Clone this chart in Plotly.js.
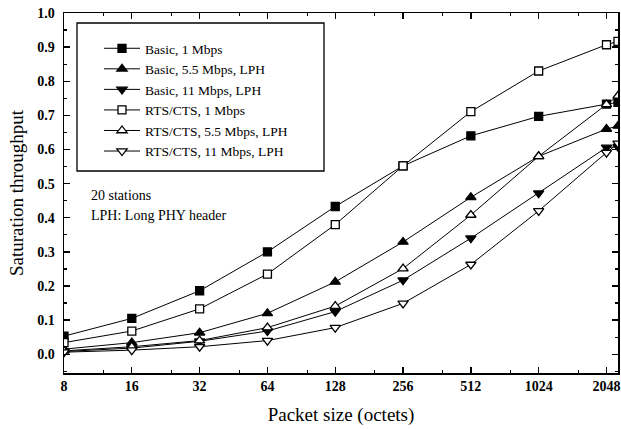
<!DOCTYPE html>
<html>
<head>
<meta charset="utf-8">
<script src="https://cdn.plot.ly/plotly-3.0.1.min.js"></script>
<style>
  html, body { margin: 0; padding: 0; background: #fff; }
  #chart { width: 621px; height: 429px; }
</style>
</head>
<body>
<div id="chart"></div>
<script>
// Packet sizes (octets)
const packetSizes = [8, 16, 32, 64, 128, 256, 512, 1024, 2048, 2304];
const tickSizes = [8, 16, 32, 64, 128, 256, 512, 1024, 2048];
const tickLabels = ["8", "16", "32", "64", "128", "256", "512", "1024", "2048"];
const minorSizes = [12, 24, 48, 96, 192, 384, 768, 1536];

// Saturation throughput, 20 stations
const basic1 = [0.053, 0.105, 0.186, 0.300, 0.433, 0.552, 0.640, 0.697, 0.733, 0.738];
const basic55 = [0.015, 0.034, 0.063, 0.120, 0.212, 0.329, 0.460, 0.580, 0.660, 0.669];
const basic11 = [0.008, 0.018, 0.038, 0.068, 0.125, 0.217, 0.340, 0.472, 0.606, 0.608];
const rts1 = [0.034, 0.068, 0.133, 0.235, 0.380, 0.552, 0.711, 0.830, 0.907, 0.917];
const rts55 = [0.010, 0.022, 0.040, 0.078, 0.141, 0.251, 0.408, 0.580, 0.732, 0.757];
const rts11 = [0.006, 0.012, 0.022, 0.040, 0.078, 0.149, 0.263, 0.420, 0.591, 0.618];

const seriesNames = [
  "Basic, 1 Mbps",
  "Basic, 5.5 Mbps, LPH",
  "Basic, 11 Mbps, LPH",
  "RTS/CTS, 1 Mbps",
  "RTS/CTS, 5.5 Mbps, LPH",
  "RTS/CTS, 11 Mbps, LPH"
];
const seriesValues = [basic1, basic55, basic11, rts1, rts55, rts11];
const symbols = ["square", "triangle-up", "triangle-down", "square", "triangle-up", "triangle-down"];
const fills = ["black", "black", "black", "white", "white", "white"];

const serif = "Liberation Serif, Times New Roman, serif";

const traces = seriesValues.map((vals, i) => ({
  type: "scatter",
  mode: "lines+markers",
  name: seriesNames[i],
  x: packetSizes,
  y: vals,
  line: { color: "black", width: 1 },
  marker: {
    symbol: symbols[i],
    size: symbols[i] === "square" ? 8 : 9,
    color: fills[i],
    line: { color: "black", width: 1.3 }
  }
}));

// legend frame and notes, in paper coordinates
const plotL = 64, plotR = 618, plotT = 13, plotB = 373;
const px = v => (v - plotL) / (plotR - plotL);
const py = v => (plotB - v) / (plotB - plotT);

const layout = {
  width: 621,
  height: 429,
  margin: { l: plotL, r: 621 - plotR, t: plotT, b: 429 - plotB },
  paper_bgcolor: "white",
  plot_bgcolor: "white",
  font: { family: serif, color: "black", size: 14 },
  showlegend: true,
  legend: {
    x: px(99), y: py(33), xanchor: "left", yanchor: "top",
    bgcolor: "rgba(0,0,0,0)",
    borderwidth: 0,
    font: { family: serif, size: 13.5, color: "black" },
    itemwidth: 36,
    tracegroupgap: 0
  },
  xaxis: {
    type: "log",
    range: [Math.log10(8), Math.log10(2304)],
    tickmode: "array",
    tickvals: tickSizes,
    ticktext: tickLabels,
    ticks: "inside",
    ticklen: 6,
    tickwidth: 1.3,
    tickcolor: "black",
    mirror: "allticks",
    showline: true,
    linecolor: "black",
    linewidth: 1.5,
    showgrid: false,
    zeroline: false,
    tickfont: { family: serif, size: 14, color: "black", weight: "bold" },
    minor: {
      tickmode: "array",
      tickvals: minorSizes,
      ticks: "inside",
      ticklen: 3,
      tickwidth: 1.2,
      tickcolor: "black",
      showgrid: false
    },
    title: { text: "Packet size (octets)", font: { family: serif, size: 19, color: "black" }, standoff: 14 }
  },
  yaxis: {
    range: [-0.055, 1.0],
    tickmode: "linear",
    tick0: 0,
    dtick: 0.1,
    tickformat: ".1f",
    ticks: "inside",
    ticklen: 6,
    tickwidth: 1.3,
    tickcolor: "black",
    ticklabelstandoff: 5,
    mirror: "allticks",
    showline: true,
    linecolor: "black",
    linewidth: 1.5,
    showgrid: false,
    zeroline: false,
    tickfont: { family: serif, size: 14, color: "black", weight: "bold" },
    minor: {
      tick0: 0.05,
      dtick: 0.1,
      ticks: "inside",
      ticklen: 3,
      tickwidth: 1.2,
      tickcolor: "black",
      showgrid: false
    },
    title: { text: "Saturation throughput", font: { family: serif, size: 19, color: "black" }, standoff: 8 }
  },
  shapes: [{
    type: "rect", xref: "paper", yref: "paper",
    x0: px(77), x1: px(324), y0: py(171), y1: py(23),
    line: { color: "black", width: 1.3 },
    fillcolor: "rgba(0,0,0,0)"
  }],
  annotations: [
    { text: "20 stations", xref: "paper", yref: "paper", x: px(89), y: py(195),
      xanchor: "left", yanchor: "middle", showarrow: false,
      font: { family: serif, size: 14, color: "black" } },
    { text: "LPH: Long PHY header", xref: "paper", yref: "paper", x: px(89), y: py(215),
      xanchor: "left", yanchor: "middle", showarrow: false,
      font: { family: serif, size: 14, color: "black" } }
  ]
};

Plotly.newPlot("chart", traces, layout, { displayModeBar: false, staticPlot: true });
</script>
</body>
</html>
